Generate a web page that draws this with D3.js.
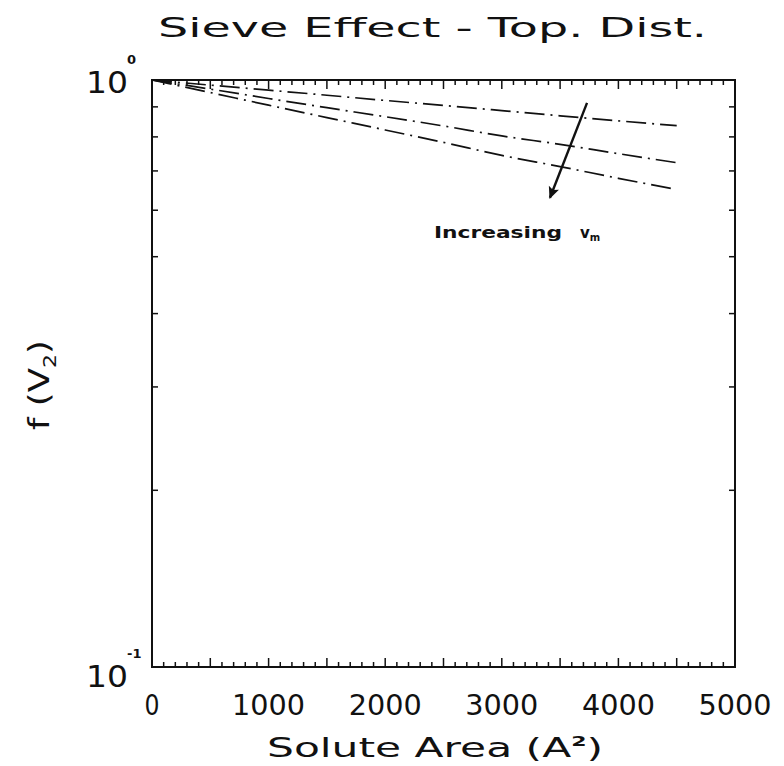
<!DOCTYPE html>
<html lang="en">
<head>
  <meta charset="UTF-8">
  <title>sieve effect</title>
  <style>
    body { margin: 0; background: #fff; }
    text { font-family: "DejaVu Sans", sans-serif; fill: #111; }
  </style>
</head>
<body>
  <div class="chart"></div>
  <script src="https://cdnjs.cloudflare.com/ajax/libs/d3/7.8.5/d3.min.js"></script>
  <script>
    'use strict';

    // solute area (A^2) sampled along each curve
    const area = [0, 500, 1000, 1500, 2000, 2500, 3000, 3500, 4000, 4500];
    // f(V2), three curves, increasing v_m from top to bottom
    const curveLow = [1, 0.980, 0.961, 0.942, 0.923, 0.905, 0.887, 0.869, 0.852, 0.836];
    const curveMid = [1, 0.965, 0.930, 0.897, 0.866, 0.835, 0.803, 0.777, 0.749, 0.723];
    const curveHigh = [1, 0.952, 0.906, 0.863, 0.822, 0.783, 0.744, 0.712, 0.680, 0.651];
    const xTicks = [0, 1000, 2000, 3000, 4000, 5000];
    const yMinor = [0.2, 0.3, 0.4, 0.5, 0.6, 0.7, 0.8, 0.9];
    // arrow annotation: from / to in data units
    const arrowFrom = [3731, 0.914];
    const arrowTo = [3413, 0.630];

    const W = 784, H = 766;
    const mLeft = 152, mRight = 735, mTop = 80, mBottom = 667;

    const svg = d3.select(".chart").append("svg")
      .attr("width", W).attr("height", H);

    const x = d3.scaleLinear().domain([0, 5000]).range([mLeft, mRight]);
    const y = d3.scaleLog().domain([0.1, 1]).range([mBottom, mTop]);

    // frame
    svg.append("rect")
      .attr("x", mLeft).attr("y", mTop)
      .attr("width", mRight - mLeft).attr("height", mBottom - mTop)
      .attr("fill", "none").attr("stroke", "#111").attr("stroke-width", 2);

    // x ticks, every 100 with taller ones every 500, on bottom and top
    const xt = d3.range(100, 5000, 100);
    function tickLen(v) { return v % 500 === 0 ? 9 : 5; }
    svg.append("g").selectAll("line").data(xt).join("line")
      .attr("x1", d => x(d)).attr("x2", d => x(d))
      .attr("y1", mBottom).attr("y2", d => mBottom - tickLen(d))
      .attr("stroke", "#111").attr("stroke-width", 1.5);
    svg.append("g").selectAll("line").data(xt).join("line")
      .attr("x1", d => x(d)).attr("x2", d => x(d))
      .attr("y1", mTop).attr("y2", d => mTop + tickLen(d))
      .attr("stroke", "#111").attr("stroke-width", 1.5);

    // y ticks on both sides
    svg.append("g").selectAll("line").data(yMinor).join("line")
      .attr("x1", mLeft).attr("x2", mLeft + 6)
      .attr("y1", d => y(d)).attr("y2", d => y(d))
      .attr("stroke", "#111").attr("stroke-width", 1.5);
    svg.append("g").selectAll("line").data(yMinor).join("line")
      .attr("x1", mRight).attr("x2", mRight - 6)
      .attr("y1", d => y(d)).attr("y2", d => y(d))
      .attr("stroke", "#111").attr("stroke-width", 1.5);

    // x tick labels
    svg.append("g").selectAll("text").data(xTicks).join("text")
      .attr("x", d => x(d)).attr("y", 715)
      .attr("text-anchor", "middle")
      .attr("font-size", 28)
      .attr("textLength", d => d === 0 ? 15 : 73)
      .attr("lengthAdjust", "spacingAndGlyphs")
      .text(d => d);

    // y tick labels 10^0 and 10^-1
    const yLab = svg.append("g");
    [[1, "0", 93], [0.1, "-1", 687]].forEach(([v, sup, by]) => {
      yLab.append("text")
        .attr("x", 86).attr("y", by)
        .attr("font-size", 30)
        .attr("textLength", 42).attr("lengthAdjust", "spacingAndGlyphs")
        .text("10");
      yLab.append("text")
        .attr("x", 127).attr("y", by - 29)
        .attr("font-size", 13)
        .attr("font-weight", "bold")
        .text(sup);
    });

    // curves
    const line = d3.line()
      .x((d, i) => x(area[i]))
      .y(d => y(d))
      .curve(d3.curveMonotoneX);
    [curveLow, curveMid, curveHigh].forEach(c => {
      svg.append("path")
        .attr("d", line(c))
        .attr("fill", "none")
        .attr("stroke", "#111")
        .attr("stroke-width", 1.7)
        .attr("stroke-dasharray", "20,6,2,6");
    });

    // arrow
    svg.append("defs").append("marker")
      .attr("id", "head")
      .attr("viewBox", "0 0 10 10")
      .attr("refX", 9).attr("refY", 5)
      .attr("markerWidth", 8).attr("markerHeight", 5)
      .attr("markerUnits", "strokeWidth")
      .attr("orient", "auto")
      .append("path")
      .attr("d", "M0,0.5 L10,5 L0,9.5 L2,5 Z")
      .attr("fill", "#111");
    svg.append("line")
      .attr("x1", x(arrowFrom[0])).attr("y1", y(arrowFrom[1]))
      .attr("x2", x(arrowTo[0])).attr("y2", y(arrowTo[1]))
      .attr("stroke", "#111").attr("stroke-width", 2.4)
      .attr("marker-end", "url(#head)");

    // annotation
    const ann = svg.append("text")
      .attr("x", 434).attr("y", 238)
      .attr("font-family", "DejaVu Sans Mono")
      .attr("font-weight", "bold")
      .attr("font-size", 15);
    ann.append("tspan").attr("textLength", 128).attr("lengthAdjust", "spacingAndGlyphs").text("Increasing");
    ann.append("tspan").attr("x", 580).text("v");
    ann.append("tspan").attr("dy", 3).attr("font-size", 10).text("m");

    // title
    svg.append("text")
      .attr("x", 158).attr("y", 37)
      .attr("font-size", 27)
      .attr("textLength", 549).attr("lengthAdjust", "spacingAndGlyphs")
      .text("Sieve Effect - Top. Dist.");

    // x axis label
    const xl = svg.append("text")
      .attr("x", 267).attr("y", 757)
      .attr("font-size", 27)
      .attr("textLength", 336).attr("lengthAdjust", "spacingAndGlyphs");
    xl.append("tspan").text("Solute Area (A");
    xl.append("tspan").attr("dy", -11).attr("font-size", 14).attr("font-weight", "bold").text("2");
    xl.append("tspan").attr("dy", 11).text(")");

    // y axis label
    const yl = svg.append("text")
      .attr("transform", "translate(49,385) rotate(-90)")
      .attr("text-anchor", "middle")
      .attr("font-size", 29)
      .attr("textLength", 90).attr("lengthAdjust", "spacingAndGlyphs");
    yl.append("tspan").text("f (V");
    yl.append("tspan").attr("dy", 7).attr("font-size", 18).text("2");
    yl.append("tspan").attr("dy", -7).text(")");
  </script>
</body>
</html>
